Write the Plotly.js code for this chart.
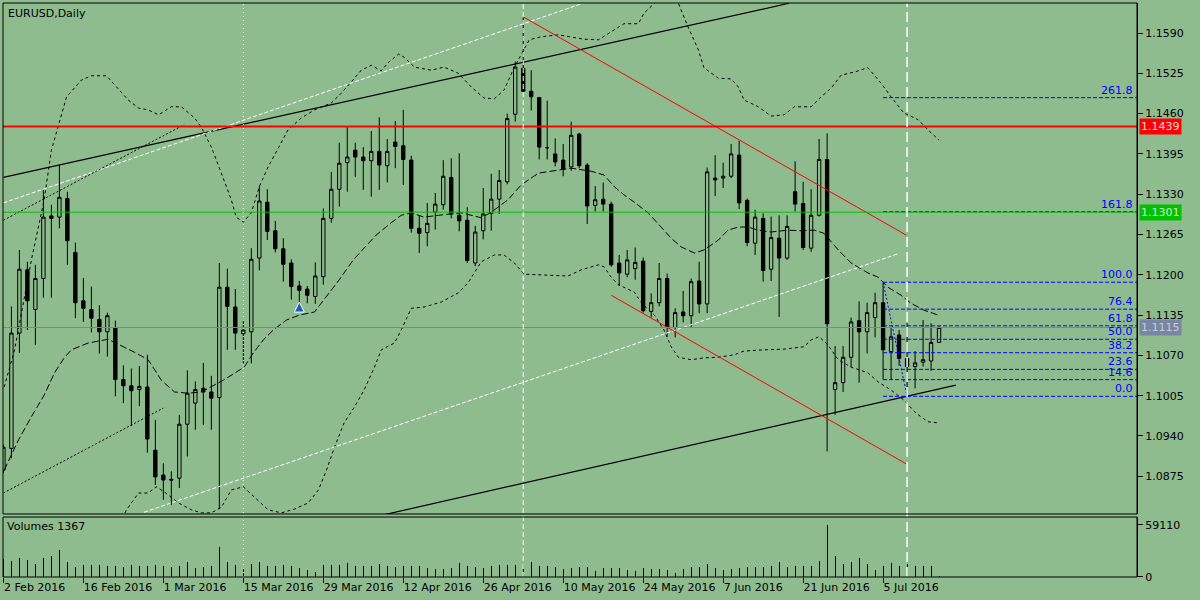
<!DOCTYPE html>
<html><head><meta charset="utf-8">
<script src="https://cdn.plot.ly/plotly-3.0.1.min.js"></script>
<style>html,body{margin:0;padding:0;background:#8FBC8F;}#chart{width:1200px;height:600px;}</style>
</head><body><div id="chart"></div>
<script>
// ---- x-axis (bar index) ticks ----
const tickIdx = [0,10,20,30,40,50,60,70,80,90,100,110];
const tickLabels = ["2 Feb 2016","16 Feb 2016","1 Mar 2016","15 Mar 2016","29 Mar 2016","12 Apr 2016","26 Apr 2016","10 May 2016","24 May 2016","7 Jun 2016","21 Jun 2016","5 Jul 2016"];

// ---- daily OHLC, EURUSD ----
const openP = [
1.0885,1.0920,1.1106,1.1208,1.1144,1.1194,1.1295,1.1293,1.1323,1.1236,
1.1158,1.1144,1.1128,1.1108,1.1114,1.1031,1.1021,1.1015,1.1019,1.0917,
1.0877,1.0870,1.0872,1.0959,1.0993,1.1017,1.1011,1.1002,1.1180,1.1148,
1.1105,1.1108,1.1227,1.1317,1.1271,1.1242,1.1219,1.1182,1.1177,1.1165,
1.1197,1.1291,1.1338,1.1381,1.1401,1.1390,1.1384,1.1399,1.1376,1.1414,
1.1408,1.1385,1.1275,1.1268,1.1301,1.1313,1.1357,1.1296,1.1288,1.1219,
1.1271,1.1299,1.1322,1.1350,1.1459,1.1533,1.1496,1.1486,1.1405,1.1395,
1.1385,1.1374,1.1427,1.1377,1.1312,1.1322,1.1314,1.1219,1.1201,1.1210,
1.1222,1.1141,1.1155,1.1194,1.1115,1.1140,1.1134,1.1190,1.1153,1.1356,
1.1356,1.1359,1.1393,1.1320,1.1251,1.1291,1.1209,1.1259,1.1227,1.1334,
1.1315,1.1243,1.1296,1.1386,1.1015,1.1026,1.1067,1.1126,1.1108,1.1131,
1.1155,1.1076,1.1103,1.1065,1.1052,1.1059,1.1061,1.1091];
const highP = [
1.0926,1.1149,1.1240,1.1221,1.1216,1.1337,1.1313,1.1377,1.1334,1.1252,
1.1195,1.1181,1.1151,1.1139,1.1126,1.1054,1.1049,1.1053,1.1071,1.0966,
1.0896,1.0883,1.0974,1.1046,1.1028,1.1058,1.1037,1.1219,1.1210,1.1177,
1.1127,1.1243,1.1343,1.1338,1.1287,1.1259,1.1225,1.1190,1.1182,1.1220,
1.1307,1.1366,1.1413,1.1438,1.1413,1.1406,1.1432,1.1454,1.1419,1.1448,
1.1466,1.1392,1.1296,1.1316,1.1332,1.1385,1.1388,1.1396,1.1309,1.1279,
1.1340,1.1363,1.1369,1.1460,1.1544,1.1615,1.1530,1.1486,1.1481,1.1420,
1.1411,1.1447,1.1429,1.1380,1.1343,1.1349,1.1318,1.1232,1.1240,1.1244,
1.1228,1.1170,1.1219,1.1202,1.1146,1.1174,1.1194,1.1221,1.1373,1.1393,
1.1381,1.1411,1.1416,1.1323,1.1305,1.1299,1.1294,1.1296,1.1296,1.1383,
1.1350,1.1338,1.1419,1.1428,1.1085,1.1085,1.1131,1.1157,1.1155,1.1171,
1.1187,1.1116,1.1111,1.1122,1.1077,1.1127,1.1122,1.1117];
const lowP = [
1.0880,1.0904,1.1074,1.1111,1.1087,1.1163,1.1163,1.1275,1.1216,1.1130,
1.1124,1.1107,1.1073,1.1068,1.1004,1.0993,1.0956,1.0988,1.0913,1.0861,
1.0837,1.0829,1.0856,1.0907,1.0950,1.0958,1.0950,1.0822,1.1079,1.1079,
1.1057,1.1057,1.1207,1.1256,1.1236,1.1189,1.1160,1.1146,1.1154,1.1153,
1.1184,1.1284,1.1310,1.1334,1.1358,1.1337,1.1326,1.1337,1.1349,1.1372,
1.1345,1.1268,1.1235,1.1246,1.1273,1.1305,1.1291,1.1270,1.1219,1.1214,
1.1257,1.1271,1.1298,1.1346,1.1447,1.1494,1.1465,1.1386,1.1386,1.1375,
1.1359,1.1368,1.1372,1.1282,1.1302,1.1302,1.1213,1.1182,1.1196,1.1192,
1.1139,1.1131,1.1149,1.1100,1.1099,1.1123,1.1115,1.1138,1.1138,1.1327,
1.1340,1.1356,1.1306,1.1246,1.1232,1.1189,1.1190,1.1132,1.1224,1.1302,
1.1240,1.1237,1.1294,1.0915,1.0974,1.1011,1.1051,1.1026,1.1073,1.1099,
1.1031,1.1031,1.1053,1.1003,1.1017,1.1052,1.1045,1.1090];
const closeP = [
1.0922,1.1106,1.1209,1.1158,1.1194,1.1293,1.1291,1.1325,1.1255,1.1155,
1.1146,1.1130,1.1108,1.1134,1.1031,1.1021,1.1013,1.1020,1.0935,1.0874,
1.0869,1.0869,1.0959,1.1009,1.1015,1.1011,1.1001,1.1180,1.1149,1.1106,
1.1111,1.1225,1.1319,1.1270,1.1242,1.1217,1.1181,1.1175,1.1167,1.1198,
1.1291,1.1338,1.1380,1.1390,1.1390,1.1384,1.1399,1.1377,1.1399,1.1407,
1.1386,1.1275,1.1267,1.1283,1.1314,1.1359,1.1298,1.1287,1.1223,1.1269,
1.1298,1.1322,1.1352,1.1452,1.1535,1.1496,1.1487,1.1406,1.1405,1.1382,
1.1370,1.1425,1.1376,1.1311,1.1321,1.1314,1.1216,1.1203,1.1224,1.1220,
1.1142,1.1155,1.1194,1.1115,1.1139,1.1134,1.1189,1.1153,1.1366,1.1353,
1.1359,1.1395,1.1316,1.1252,1.1293,1.1207,1.1260,1.1227,1.1278,1.1314,
1.1244,1.1296,1.1386,1.1121,1.1026,1.1067,1.1124,1.1108,1.1139,1.1155,
1.1079,1.1100,1.1065,1.1052,1.1058,1.1063,1.1091,1.1115];
const volumes = [
20000,18460,21470,19210,15070,21470,24110,30890,16950,10920,
13180,13180,13940,12050,12050,11300,13940,12810,12810,13180,
12050,10920,12050,16950,10170,10920,12050,33900,16950,13940,
10170,15070,16950,12810,12810,13940,12050,10170,8290,5650,
13180,13180,13940,15820,12050,12810,12810,14690,12050,10920,
12050,12050,12050,10170,9040,9040,10170,15820,12050,10920,
10170,12810,13940,13940,13940,15070,16950,12810,12810,10920,
9040,10170,11000,11300,6400,10170,10170,10170,7530,6400,
10170,9040,9040,7530,4520,9040,10920,11300,14690,10170,
7530,9040,10170,11300,11300,10920,12050,16950,11300,12810,
12050,12050,17700,59110,24110,15070,16570,21470,14690,7530,
12050,15820,12050,14690,12050,12810,12810,1367];

// ---- Bollinger bands & moving average ----
const bbUpperX = [0.1,1.4,3.5,5.1,6,6.6,7.9,9.75,11,12.9,14.1,15.6,16.9,18.1,19.4,21,22.25,23.9,24.75,26,27.25,28.5,29.1,30,31,32,33.1,34.4,35.6,37.25,38.9,41,42.25,43.5,44.75,46,47.25,48.1,49.4,50.1,51.4,53.5,55.1,56.9,58.5,60.1,61.4,62.6,63.9,65.75,67.25,69.4,72.6,74.4,76,77.6,79.4,80.1,81.4,82.9,84.4,85.6,86.9,87.6,89.4,91,91.9,92.6,94.4,96,97.6,98.9,101,102.25,103.5,104.75,106.4,108.1,109.75,111,112.6,114.4,115.6,117];
const bbUpperY = [1.1019,1.1079,1.1224,1.1321,1.1401,1.1429,1.1487,1.1514,1.1521,1.1521,1.1503,1.1482,1.1469,1.1466,1.1458,1.1471,1.1471,1.1453,1.1438,1.1406,1.1364,1.1321,1.1293,1.1285,1.1300,1.1342,1.1374,1.1406,1.1434,1.1453,1.1466,1.1477,1.1493,1.1511,1.1530,1.1538,1.1529,1.1542,1.1556,1.1551,1.1535,1.1530,1.1535,1.1525,1.1503,1.1485,1.1484,1.1498,1.1535,1.1579,1.1584,1.1587,1.1580,1.1579,1.1592,1.1605,1.1605,1.1622,1.1638,1.1651,1.1638,1.1600,1.1563,1.1534,1.1517,1.1516,1.1503,1.1482,1.1471,1.1456,1.1458,1.1471,1.1471,1.1487,1.1501,1.1522,1.1527,1.1534,1.1509,1.1487,1.1461,1.1450,1.1434,1.1417];
const maX = [0.1,1.9,3.5,5.1,6.4,7.6,8.5,10.6,13.1,14.4,16.4,18.1,19.75,21.4,23.1,24.75,27.5,30.1,31.25,32.5,33.75,35.4,37,38.9,40.75,42,43.75,45.4,46.6,48.5,49.75,51,52.6,54.4,57.25,59.75,61,63.1,64.75,66.9,69.4,71,73.5,75.1,76.4,77.6,78.9,80.6,82.25,83.5,84.75,86.4,87.6,89.4,90.6,91.9,93.1,94.4,96,98.1,99.75,101.4,102.6,104.4,106,108.1,109.4,110.6,112.25,113.5,115.1,116.9];
const maY = [1.0885,1.0934,1.0971,1.1006,1.1042,1.1066,1.1079,1.1090,1.1096,1.1088,1.1075,1.1063,1.1030,1.1011,1.1009,1.1011,1.1030,1.1051,1.1074,1.1095,1.1111,1.1127,1.1135,1.1140,1.1171,1.1192,1.1224,1.1248,1.1264,1.1284,1.1296,1.1300,1.1293,1.1296,1.1300,1.1292,1.1301,1.1321,1.1345,1.1364,1.1369,1.1372,1.1367,1.1361,1.1342,1.1329,1.1317,1.1300,1.1277,1.1259,1.1245,1.1235,1.1240,1.1256,1.1272,1.1277,1.1277,1.1272,1.1269,1.1272,1.1271,1.1272,1.1267,1.1240,1.1219,1.1203,1.1196,1.1180,1.1167,1.1154,1.1143,1.1135];
const bbLowerX = [0.1,7.25,12.25,14.5,15.4,16.9,18.1,19.1,20.1,21.9,23.5,24.75,26,27.25,28.5,30,31.4,33.1,34.75,36.4,38.1,39.4,40.4,41.4,42.6,43.9,45.1,46.4,47.25,48.9,49.75,51,52.6,54.75,56.9,58.1,59.75,61.4,62.6,63.9,65.1,67.6,70.6,72.25,74.4,75.1,76,76.9,78.9,79.75,81.4,82.6,83.5,84.4,86,87.6,89.4,91.4,92.6,95.1,97.6,100.1,101,102,103.1,104.4,106,108.1,109.4,111,112.6,114.1,115.6,116.9];
const bbLowerY = [1.0740,1.0700,1.0740,1.0796,1.0821,1.0848,1.0848,1.0858,1.0850,1.0832,1.0821,1.0816,1.0816,1.0825,1.0853,1.0858,1.0842,1.0821,1.0816,1.0822,1.0832,1.0853,1.0885,1.0922,1.0961,1.0987,1.1014,1.1051,1.1079,1.1090,1.1111,1.1146,1.1148,1.1156,1.1171,1.1187,1.1221,1.1232,1.1232,1.1219,1.1201,1.1200,1.1198,1.1208,1.1216,1.1213,1.1196,1.1184,1.1172,1.1155,1.1135,1.1111,1.1084,1.1067,1.1063,1.1066,1.1067,1.1071,1.1077,1.1079,1.1080,1.1084,1.1095,1.1100,1.1087,1.1063,1.1051,1.1042,1.1027,1.1014,1.0998,1.0977,1.0963,1.0961];

// ---- drawn objects (bar index, price) ----
const blackLine1X = [0,98.25], blackLine1Y = [1.1357,1.1638];
const blackLine2X = [47.6,119.1], blackLine2Y = [1.0813,1.1022];
const whiteLine1X = [0,72.25], whiteLine1Y = [1.1316,1.1637];
const whiteLine2X = [17.6,111.9], whiteLine2Y = [1.0817,1.1234];
const dotLine1X = [0,22.6], dotLine1Y = [1.1288,1.1442];
const dotLine2X = [0,20], dotLine2Y = [1.0848,1.0985];
const redLine1X = [65,112.9], redLine1Y = [1.1616,1.1264];
const redLine2X = [76,112.9], redLine2Y = [1.1167,1.0895];
const fibStartIdx = 110, fibEndIdx = 113;
const fibHigh = 1.1188, fibLow = 1.1004;
const fibLevels = [0, 14.6, 23.6, 38.2, 50, 61.8, 76.4, 100, 161.8, 261.8];
const fibLabels = ["0.0","14.6","23.6","38.2","50.0","61.8","76.4","100.0","161.8","261.8"];
const redLevel = 1.1439, greenLevel = 1.1301, lastPrice = 1.1115;
const arrowIdx = [37], arrowPrice = [1.1156];
const vLineIdx = [30, 65, 113];

const BG = '#8FBC8F';
const idx = openP.map((_, i) => i);
const FONT = 'DejaVu Sans, sans-serif';

function seg(x, y, color, dash, width) {
  return {type:'scatter', mode:'lines', x:x, y:y, xaxis:'x', yaxis:'y', hoverinfo:'skip',
          line:{color:color, width:width || 1, dash:dash || 'solid'}};
}

const traces = [];
traces.push(seg(bbUpperX, bbUpperY, '#000', '3px,3px'));
traces.push(seg(bbLowerX, bbLowerY, '#000', '3px,3px'));
traces.push(seg(maX, maY, '#000', '7px,3px'));
traces.push(seg(blackLine1X, blackLine1Y, '#000', 'solid', 1.2));
traces.push(seg(blackLine2X, blackLine2Y, '#000', 'solid', 1.2));
traces.push(seg(whiteLine1X, whiteLine1Y, '#ffffff', '4px,2px'));
traces.push(seg(whiteLine2X, whiteLine2Y, '#ffffff', '4px,2px'));
traces.push(seg(dotLine1X, dotLine1Y, '#000', '2px,2px'));
traces.push(seg(dotLine2X, dotLine2Y, '#000', '2px,2px'));
traces.push(seg(redLine1X, redLine1Y, '#ff0000', 'solid', 1));
traces.push(seg(redLine2X, redLine2Y, '#ff0000', 'solid', 1));
fibLevels.forEach(l => {
  const p = fibLow + (fibHigh - fibLow) * l / 100;
  traces.push(seg([fibStartIdx, 160], [p, p], '#0000ff', '4px,2px'));
});
traces.push(seg([fibStartIdx, fibEndIdx], [fibHigh, fibLow], '#0000ff', '2px,2px'));

traces.push({
  type:'candlestick', x:idx, open:openP, high:highP, low:lowP, close:closeP,
  xaxis:'x', yaxis:'y', hoverinfo:'skip', whiskerwidth:0,
  increasing:{line:{color:'#000', width:1}, fillcolor:BG},
  decreasing:{line:{color:'#000', width:1}, fillcolor:'#000'}
});
traces.push({type:'scatter', mode:'markers', x:arrowIdx, y:arrowPrice, xaxis:'x', yaxis:'y',
  hoverinfo:'skip', marker:{symbol:'arrow-up', size:10, color:'#1560bd', line:{color:'#ffffff', width:1}}});
traces.push({type:'bar', x:idx, y:volumes, xaxis:'x', yaxis:'y2', width:0.14,
  hoverinfo:'skip', marker:{color:'#000', line:{width:0}}});

const shapes = [
  {type:'line', xref:'paper', x0:0, x1:1, yref:'y', y0:redLevel, y1:redLevel, line:{color:'#ff0000', width:2}},
  {type:'line', xref:'paper', x0:0, x1:1, yref:'y', y0:greenLevel, y1:greenLevel, line:{color:'#00c000', width:1}},
  {type:'line', xref:'paper', x0:0, x1:1, yref:'y', y0:lastPrice, y1:lastPrice, line:{color:'#7886a4', width:1}},
  {type:'line', xref:'x', x0:vLineIdx[0], x1:vLineIdx[0], yref:'paper', y0:0, y1:1, line:{color:'#ffffff', width:1, dash:'1px,3px'}},
  {type:'line', xref:'x', x0:vLineIdx[1], x1:vLineIdx[1], yref:'paper', y0:0, y1:1, line:{color:'#ffffff', width:1, dash:'5px,3px'}},
  {type:'line', xref:'x', x0:vLineIdx[2], x1:vLineIdx[2], yref:'paper', y0:0, y1:1, line:{color:'#ffffff', width:1.5, dash:'10px,5px'}},
  {type:'rect', xref:'paper', x0:0, x1:1, yref:'y domain', y0:0, y1:1, line:{color:'#000', width:1}},
  {type:'rect', xref:'paper', x0:0, x1:1, yref:'y2 domain', y0:0, y1:1, line:{color:'#000', width:1}}
];

const annotations = [
  {text:'EURUSD,Daily', xref:'paper', x:0, xanchor:'left', xshift:3, yref:'paper', y:1, yanchor:'top', yshift:-2, showarrow:false, font:{family:FONT, size:11, color:'#000'}},
  {text:'Volumes 1367', xref:'paper', x:0, xanchor:'left', xshift:2, yref:'y2 domain', y:1, yanchor:'top', yshift:-1, showarrow:false, font:{family:FONT, size:11, color:'#000'}},
  {text:redLevel.toFixed(4), xref:'paper', x:1, xanchor:'left', xshift:2, yref:'y', y:redLevel, yanchor:'middle', showarrow:false, bgcolor:'#ff0000', borderpad:1, font:{family:FONT, size:11, color:'#ffd6d6'}},
  {text:greenLevel.toFixed(4), xref:'paper', x:1, xanchor:'left', xshift:2, yref:'y', y:greenLevel, yanchor:'middle', showarrow:false, bgcolor:'#00c000', borderpad:1, font:{family:FONT, size:11, color:'#c8f0c8'}},
  {text:lastPrice.toFixed(4), xref:'paper', x:1, xanchor:'left', xshift:2, yref:'y', y:lastPrice, yanchor:'middle', showarrow:false, bgcolor:'#7886a4', borderpad:1, font:{family:FONT, size:11, color:'#c8ccd4'}}
];
fibLevels.forEach((l, k) => {
  const p = fibLow + (fibHigh - fibLow) * l / 100;
  annotations.push({text:fibLabels[k], xref:'paper', x:1, xanchor:'right', xshift:-2, yref:'y', y:p, yanchor:'bottom', yshift:-1,
    showarrow:false, font:{family:FONT, size:11, color:'#0000ff'}});
});

const layout = {
  width:1200, height:600,
  paper_bgcolor:BG, plot_bgcolor:BG,
  margin:{l:3, r:63, t:3, b:23},
  showlegend:false, hovermode:false, boxgap:0.4, bargap:0,
  font:{family:FONT, size:11, color:'#000'},
  xaxis:{anchor:'y2', range:[-0.05,141.75], tickmode:'array', tickvals:tickIdx, ticktext:tickLabels,
    ticks:'outside', ticklen:5, tickcolor:'#000', ticklabelposition:'outside right', tickangle:0,
    tickfont:{family:FONT, size:11, color:'#000'},
    showgrid:false, zeroline:false, showline:false, rangeslider:{visible:false}, fixedrange:true, automargin:false},
  yaxis:{domain:[0.1098,1], anchor:'x', side:'right', range:[1.08142,1.16384], tickmode:'linear', tick0:1.0875, dtick:0.0065,
    tickformat:'.4f', ticks:'outside', ticklen:5, tickcolor:'#000', showline:true, linecolor:'#000', linewidth:1,
    showgrid:false, zeroline:false, fixedrange:true, automargin:false},
  yaxis2:{domain:[0,0.1045], anchor:'x', side:'right', range:[0,67800], tickmode:'array', tickvals:[0,59110], ticktext:['0','59110'],
    ticks:'outside', ticklen:5, tickcolor:'#000', showline:true, linecolor:'#000', linewidth:1,
    showgrid:false, zeroline:false, fixedrange:true, automargin:false},
  shapes:shapes, annotations:annotations
};

Plotly.newPlot('chart', traces, layout, {displayModeBar:false, staticPlot:true});
</script>
</body></html>
